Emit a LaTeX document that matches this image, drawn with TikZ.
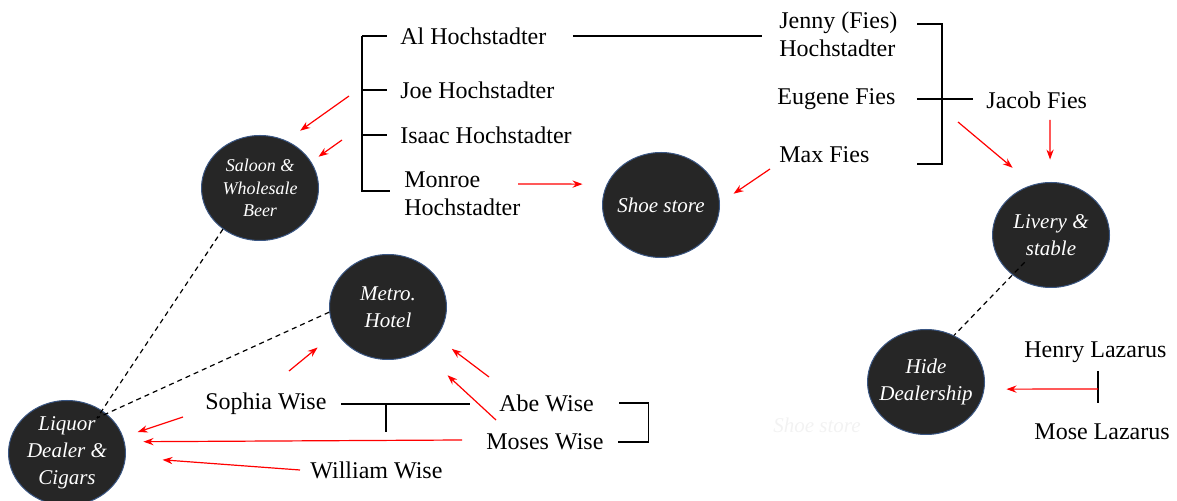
\documentclass[tikz,border=0pt]{standalone}
\usepackage{fontspec}
\setmainfont{Liberation Serif}
\usetikzlibrary{positioning}
\usetikzlibrary{shapes.geometric}
\usetikzlibrary{arrows.meta}

\definecolor{bizfill}{HTML}{262626}
\definecolor{bizrim}{HTML}{3A5683}

\tikzset{
  biz/.style={ellipse,fill=bizfill,draw=bizrim,line width=0.5pt,
    minimum width=58.5pt,minimum height=52.5pt,inner sep=-8pt,
    align=center,text=white,font=\fontsize{10.5}{13.5}\selectfont\itshape},
  who/.style={anchor=west,inner sep=0pt,align=left,
    font=\fontsize{12}{14}\selectfont},
  kin/.style={line width=0.6pt},
  gift/.style={->,red,line width=0.6pt},
  link/.style={line width=0.6pt,dash pattern=on 2.5pt off 2pt}
}

\begin{document}
\begin{tikzpicture}[x=0.5pt,y=-0.5pt,>={Stealth[length=5pt,width=3.6pt]}]
  \useasboundingbox (0,0) rectangle (1177,501);

  % businesses
  \node (saloon) [biz,font=\fontsize{9}{11.25}\selectfont\itshape] at (260,188) {Saloon \&\\Wholesale\\Beer};
  \node (shoe)   [biz] at (661,205)  {Shoe store};
  \node (livery) [biz] at (1051,235) {Livery \&\\stable};
  \node (metro)  [biz] at (388,307)  {Metro.\\Hotel};
  \node (liquor) [biz] at (67,453)   {Liquor\\Dealer \&\\Cigars};
  \node (hide)   [biz] at (926,382)  {Hide\\Dealership};

  % people
  \node (al)      [who] at (400,36)    {Al Hochstadter};
  \node (joe)     [who] at (400,90)    {Joe Hochstadter};
  \node (isaac)   [who] at (400,135)   {Isaac Hochstadter};
  \node (monroe)  [who] at (404,193.5) {Monroe\\Hochstadter};
  \node (jenny)   [who] at (779,34.5)  {Jenny (Fies)\\Hochstadter};
  \node (eugene)  [who] at (777,99)    {Eugene Fies};
  \node (max)     [who] at (779,155)   {Max Fies};
  \node (jacob)   [who] at (986,100)   {Jacob Fies};
  \node (sophia)  [who] at (205,404)   {Sophia Wise};
  \node (abe)     [who] at (499,403)   {Abe Wise};
  \node (moses)   [who] at (486,442)   {Moses Wise};
  \node (william) [who] at (310,470)   {William Wise};
  \node (henry)   [who] at (1024,352)  {Henry Lazarus};
  \node (mose)    [who] at (1034,432)  {Mose Lazarus};
  \node (ghost)   [who,text=black!5,font=\fontsize{10.5}{13.5}\selectfont\itshape] at (773,425) {Shoe store};

  % family lines
  \coordinate (hochtop) at (362,36);
  \coordinate (hochbot) at (362,191);
  \draw[kin] (hochtop) -- ++(25,0);
  \draw[kin] (hochtop) -- (hochbot) -- ++(28,0);
  \draw[kin] (hochtop |- joe) -- ++(25,0);
  \draw[kin] (hochtop |- isaac) -- ++(25,0);
  \draw[kin,shorten <=13pt,shorten >=8.5pt] (al.east) -- (al.east -| jenny.west);

  \coordinate (fiestop) at (942,24);
  \coordinate (fiesbot) at (942,164);
  \draw[kin] ([xshift=-12.5pt]fiestop) -- (fiestop) -- (fiesbot) -- ++(-25,0);
  \draw[kin,shorten <=10.5pt,shorten >=6.5pt] (eugene.east) -- (eugene.east -| jacob.west);

  \coordinate (wisekid) at (386,432);
  \draw[kin,shorten <=7.3pt,shorten >=14.5pt] (sophia.east) -- (sophia.east -| abe.west);
  \draw[kin] (wisekid |- sophia.east) -- (wisekid);
  \draw[kin] ([xshift=12.5pt]abe.east) -- ++(29,0) |- ([xshift=7pt]moses.east);

  \coordinate (laztop) at (1098,371);
  \coordinate (lazbot) at (1098,403);
  \coordinate (lazmid) at (1098,389);
  \draw[kin] (laztop) -- (lazbot);

  % who worked where
  \coordinate (joeT)     at (349,96);
  \coordinate (isaacT)   at (342,140);
  \coordinate (monroeT)  at (518,184);
  \coordinate (maxT)     at (770,169);
  \coordinate (fiesT)    at (958,122);
  \coordinate (jacobT)   at (1050,120);
  \coordinate (sophiaT)  at (289,371);
  \coordinate (abeT)     at (489,377);
  \coordinate (mosesT)   at (496,420);
  \coordinate (sophiaL)  at (183,417);
  \coordinate (mosesL)   at (462,440);
  \coordinate (williamT) at (300,470);

  \path[gift]
    (joeT)     edge [shorten >=8.5pt]  (saloon.61)
    (isaacT)   edge [shorten >=4.4pt]  (saloon.27)
    (monroeT)  edge [shorten >=12.1pt] (shoe.159)
    (maxT)     edge [shorten >=8.2pt]  (shoe.2)
    (fiesT)    edge [shorten >=13.1pt] (livery.110)
    (jacobT)   edge [shorten >=11.2pt] (livery.91)
    (sophiaT)  edge [shorten >=12pt]   (metro.206)
    (abeT)     edge [shorten >=9.6pt]  (metro.-32)
    (mosesT)   edge [shorten >=18pt]   (metro.-53)
    (sophiaL)  edge [shorten >=7.6pt]  (liquor.16)
    (mosesL)   edge [shorten >=9.4pt]  (liquor.11)
    (williamT) edge [shorten >=18.4pt] (liquor.-4)
    (lazmid)   edge [shorten >=11pt]   (hide.-7);

  % shared ownership
  \coordinate (liqhub) at (97,418);
  \draw[link] (saloon.228) -- (liqhub);
  \draw[link] (metro.185) -- (liqhub);
  \draw[link,shorten <=19pt] (livery.center) -- (hide.59);
\end{tikzpicture}
\end{document}
